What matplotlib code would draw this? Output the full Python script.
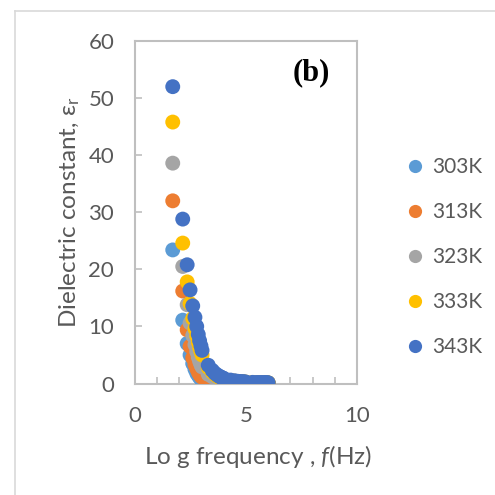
import numpy as np
import matplotlib.pyplot as plt
from matplotlib.lines import Line2D

plt.rcParams['font.family'] = ['Lato', 'DejaVu Sans']
plt.rcParams['mathtext.fontset'] = 'custom'
plt.rcParams['mathtext.rm'] = 'Lato'
plt.rcParams['mathtext.it'] = 'Lato:italic'

# log frequency (shared by all temperatures)
logf = [1.70, 2.15, 2.35, 2.48, 2.60, 2.70, 2.78, 2.85, 2.91, 2.97, 3.02,
        3.30, 3.48, 3.60, 3.70, 3.78, 3.85, 3.90, 3.95, 4.00,
        4.30, 4.48, 4.60, 4.70, 4.78, 4.85, 4.90, 4.95, 5.00,
        5.30, 5.48, 5.60, 5.70, 5.78, 5.85, 5.90, 5.95, 6.00]

temps = ['303K', '313K', '323K', '333K', '343K']
colores = ['#5B9BD5', '#ED7D31', '#A5A5A5', '#FFC000', '#4472C4']

eps_303 = [23.4, 11.1, 7.0, 5.0, 3.5, 2.5, 1.8, 1.4, 1.05, 0.85, 0.7,
           0.35, 0.27, 0.22, 0.19, 0.17, 0.15, 0.14, 0.13, 0.12,
           0.09, 0.08, 0.07, 0.07, 0.06, 0.06, 0.06, 0.05, 0.05,
           0.05, 0.05, 0.04, 0.04, 0.04, 0.04, 0.04, 0.04, 0.04]
eps_313 = [32.0, 16.2, 9.4, 6.5, 4.5, 3.3, 2.6, 2.0, 1.6, 1.3, 1.1,
           0.6, 0.45, 0.38, 0.33, 0.3, 0.27, 0.25, 0.23, 0.22,
           0.16, 0.13, 0.12, 0.11, 0.1, 0.1, 0.09, 0.09, 0.09,
           0.08, 0.07, 0.07, 0.07, 0.06, 0.06, 0.06, 0.06, 0.06]
eps_323 = [38.6, 20.5, 13.8, 10.6, 8.4, 6.8, 5.6, 4.6, 3.9, 3.3, 2.9,
           1.6, 1.2, 0.95, 0.8, 0.7, 0.62, 0.56, 0.52, 0.48,
           0.33, 0.27, 0.24, 0.21, 0.2, 0.19, 0.18, 0.17, 0.16,
           0.13, 0.12, 0.11, 0.11, 0.1, 0.1, 0.1, 0.09, 0.09]
eps_333 = [45.8, 24.6, 17.8, 14.0, 11.4, 9.6, 8.3, 7.2, 6.3, 5.6, 5.0,
           2.8, 2.0, 1.6, 1.3, 1.15, 1.0, 0.92, 0.85, 0.8,
           0.52, 0.42, 0.36, 0.32, 0.29, 0.27, 0.25, 0.24, 0.23,
           0.18, 0.16, 0.15, 0.14, 0.14, 0.13, 0.13, 0.12, 0.12]
eps_343 = [52.0, 28.8, 20.8, 16.4, 13.6, 11.6, 10.0, 8.6, 7.5, 6.6, 5.8,
           3.2, 2.3, 1.8, 1.5, 1.3, 1.15, 1.05, 0.95, 0.9,
           0.6, 0.48, 0.4, 0.35, 0.32, 0.3, 0.28, 0.26, 0.25,
           0.2, 0.18, 0.17, 0.16, 0.15, 0.15, 0.14, 0.14, 0.13]
series = [eps_303, eps_313, eps_323, eps_333, eps_343]

gris = '#595959'
eje = '#BFBFBF'

fig = plt.figure(figsize=(4.95, 4.95), dpi=100)
W = H = 495.0
ax = fig.add_axes([135 / W, 1 - 383.5 / H, (357 - 135) / W, (383.5 - 41) / H])

for t, c, e in zip(temps, colores, series):
    ax.scatter(logf, e, s=115, color=c, edgecolors='none', label=t, zorder=3)

ax.set_xlim(0, 10)
ax.set_ylim(0, 60)
ax.set_xticks([0, 5, 10])
ax.set_xticks(np.arange(0, 11, 1), minor=True)
ax.set_yticks(np.arange(0, 61, 10))
for s in ax.spines.values():
    s.set_color(eje)
    s.set_linewidth(1.5)
ax.tick_params(axis='both', which='both', direction='in', color=eje, width=1.2,
               length=5, labelcolor=gris, labelsize=16)
ax.tick_params(axis='x', pad=16)
ax.tick_params(axis='y', pad=15)

fig.text(258 / W, 1 - 456 / H, 'Lo g frequency , $\\mathit{f}$(Hz)',
         ha='center', va='center', fontsize=17.5, color=gris)
fig.text(70 / W, 1 - 212 / H, 'Dielectric constant, ε$_{\\mathrm{r}}$',
         ha='center', va='center', rotation=90, fontsize=17.5, color=gris)
fig.text(311 / W, 1 - 73 / H, '(b)', ha='center', va='center', fontsize=22,
         fontweight='bold', family='Liberation Serif', color='black')

manijas = [Line2D([], [], ls='none', marker='o', markersize=9.5, color=c,
                  markeredgewidth=0) for c in colores]
fig.legend(manijas, temps, loc='upper left', bbox_to_anchor=(405 / W, 1 - 157 / H),
           frameon=False, fontsize=15, labelcolor=gris, handlelength=1.0,
           handletextpad=0.3, labelspacing=1.2, borderpad=0, borderaxespad=0)

# borde exterior del grafico
fig.add_artist(Line2D([14.5 / W, 14.5 / W], [0, 1 - 11 / H], color='#D9D9D9', lw=1.2))
fig.add_artist(Line2D([14.5 / W, 1], [1 - 11 / H, 1 - 11 / H], color='#D9D9D9', lw=1.2))

plt.savefig('out.png', dpi=100)
